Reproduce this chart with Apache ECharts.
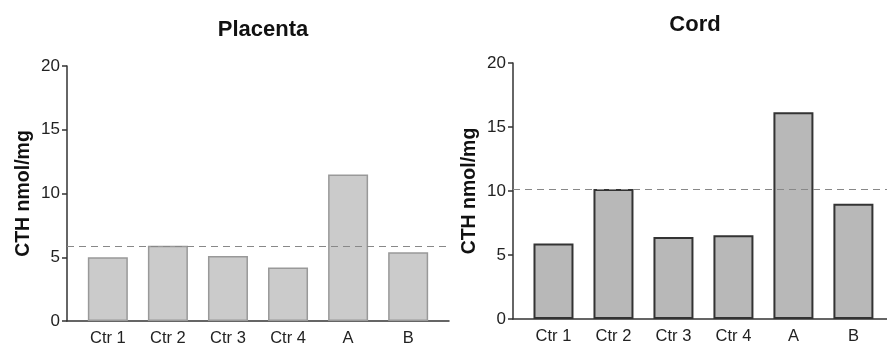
<!DOCTYPE html>
<html><head><meta charset="utf-8">
<script src="https://cdn.jsdelivr.net/npm/echarts@6/dist/echarts.min.js"></script>
<style>html,body{margin:0;padding:0;background:#fff}#c{width:887px;height:347px}</style>
</head><body><div id="c"></div>
<script>
const categories = ['Ctr 1', 'Ctr 2', 'Ctr 3', 'Ctr 4', 'A', 'B'];
const placentaValues = [5.0, 5.9, 5.1, 4.2, 11.5, 5.4];
const cordValues = [5.9, 10.15, 6.4, 6.55, 16.15, 9.0];
const placentaRef = 5.9;
const cordRef = 10.15;
const yTicks = [0, 5, 10, 15, 20];

const font = 'Liberation Sans, Arial, sans-serif';
const chart = echarts.init(document.getElementById('c'));

function xAxis(gi, min, max) {
  return {
    type: 'value', gridIndex: gi, min: min, max: max, splitNumber: 6,
    axisLine: { show: true, onZero: false, lineStyle: { color: '#333', width: 1.5 } },
    axisTick: { show: false }, splitLine: { show: false },
    axisLabel: {
      color: '#222', fontSize: 16.5, fontFamily: font, margin: 9,
      showMinLabel: false, showMaxLabel: false,
      formatter: v => Number.isInteger(v) && v >= 0 && v < categories.length ? categories[v] : ''
    }
  };
}
function yAxis(gi) {
  return {
    type: 'value', gridIndex: gi, min: yTicks[0], max: yTicks[yTicks.length - 1], interval: 5,
    name: 'CTH nmol/mg', nameLocation: 'middle', nameGap: 33,
    nameTextStyle: { fontSize: 19.5, fontWeight: 'bold', color: '#111', fontFamily: font },
    axisLine: { show: true, onZero: false, lineStyle: { color: '#333', width: 1.5 } },
    axisTick: { show: true, length: 5, lineStyle: { color: '#333', width: 1.5 } },
    splitLine: { show: false },
    axisLabel: { color: '#222', fontSize: 17, fontFamily: font, margin: 7 }
  };
}
function series(gi, vals, ref, fill, border, bw) {
  return {
    type: 'bar', xAxisIndex: gi, yAxisIndex: gi, barWidth: 40,
    data: vals.map((v, i) => [i, v]),
    itemStyle: { color: fill, borderColor: border, borderWidth: bw },
    markLine: {
      silent: true, symbol: 'none', label: { show: false },
      lineStyle: { color: '#888', type: [7, 5], width: 1.2 },
      data: [{ yAxis: ref }]
    }
  };
}

chart.setOption({
  animation: false,
  title: [
    { text: 'Placenta', left: 258, top: 14, textAlign: 'center',
      textStyle: { fontSize: 22, fontWeight: 'bold', color: '#111', fontFamily: font } },
    { text: 'Cord', left: 690, top: 9, textAlign: 'center',
      textStyle: { fontSize: 22, fontWeight: 'bold', color: '#111', fontFamily: font } }
  ],
  grid: [
    { left: 67, right: 438, top: 66, bottom: 25 },
    { left: 513, right: 0, top: 63, bottom: 28 }
  ],
  xAxis: [xAxis(0, -0.68, 5.68), xAxis(1, -0.675, 5.56)],
  yAxis: [yAxis(0), yAxis(1)],
  series: [
    series(0, placentaValues, placentaRef, '#cbcbcb', '#999', 1.5),
    series(1, cordValues, cordRef, '#b8b8b8', '#333', 2)
  ]
});
</script></body></html>
